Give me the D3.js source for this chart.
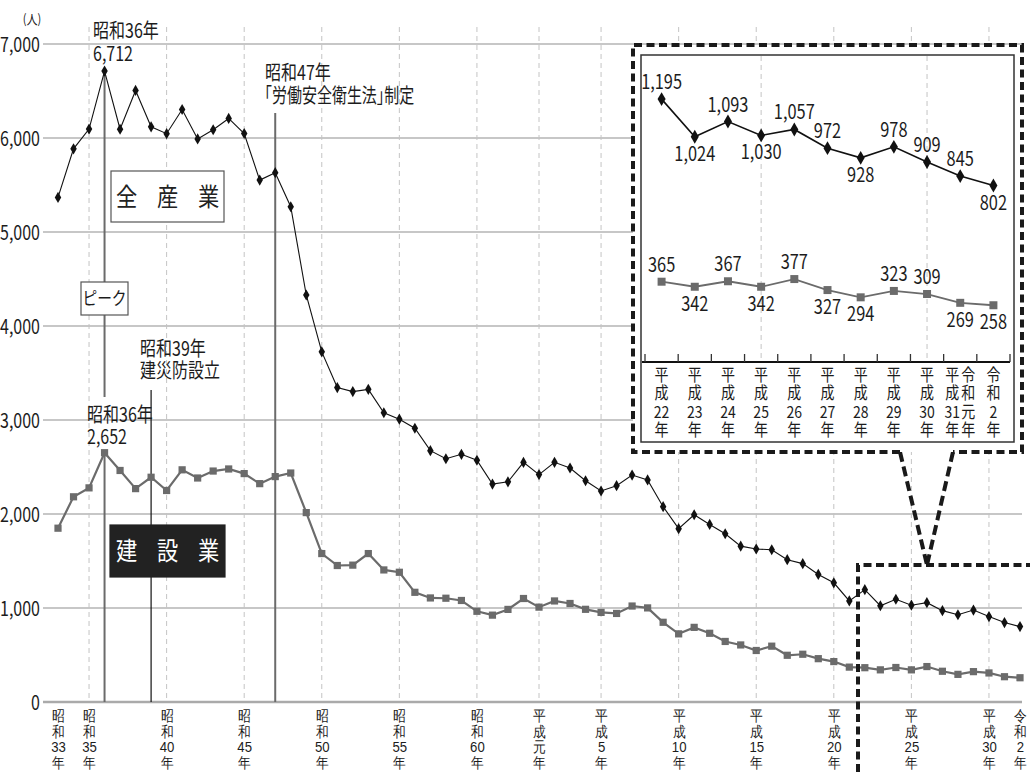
<!DOCTYPE html>
<html lang="ja">
<head>
<meta charset="UTF-8">
<title>労働災害による死亡者数の推移</title>
<script src="https://cdnjs.cloudflare.com/ajax/libs/d3/7.8.5/d3.min.js"></script>
<style>
  body { margin: 0; background: #fff; }
  svg { display: block; font-family: "Noto Sans CJK JP", "Noto Sans", sans-serif; }
</style>
</head>
<body>
<div id="chart"></div>
<script>
// 昭和33年(1958) 〜 令和2年(2020)
const startYear = 1958;
const allIndustry = [
  5368, 5885, 6095, 6712, 6093, 6506, 6119, 6046, 6303, 5990,
  6088, 6208, 6048, 5552, 5631, 5269, 4330, 3725, 3345, 3302,
  3326, 3077, 3009, 2912, 2674, 2588, 2635, 2572, 2318, 2342,
  2549, 2419, 2550, 2489, 2354, 2245, 2301, 2414, 2363, 2078,
  1844, 1992, 1889, 1790, 1658, 1628, 1620, 1514, 1472, 1357,
  1268, 1075, 1195, 1024, 1093, 1030, 1057, 972, 928, 978,
  909, 845, 802
];
const construction = [
  1849, 2183, 2278, 2652, 2463, 2270, 2391, 2250, 2470, 2383,
  2457, 2479, 2430, 2323, 2398, 2436, 2015, 1579, 1452, 1456,
  1579, 1405, 1380, 1167, 1107, 1104, 1080, 965, 924, 985,
  1101, 1009, 1075, 1048, 986, 953, 942, 1021, 1001, 848,
  725, 794, 731, 644, 607, 548, 594, 497, 508, 461,
  430, 371, 365, 342, 367, 342, 377, 327, 294, 323,
  309, 269, 258
];
const yTicks = [0, 1000, 2000, 3000, 4000, 5000, 6000, 7000];
const tickYears = [1958, 1960, 1965, 1970, 1975, 1980, 1985, 1989, 1993, 1998, 2003, 2008, 2013, 2018, 2020];
const tickLabels = [
  ["昭","和","33","年"], ["昭","和","35","年"], ["昭","和","40","年"], ["昭","和","45","年"],
  ["昭","和","50","年"], ["昭","和","55","年"], ["昭","和","60","年"], ["平","成","元","年"],
  ["平","成","5","年"], ["平","成","10","年"], ["平","成","15","年"], ["平","成","20","年"],
  ["平","成","25","年"], ["平","成","30","年"], ["令","和","2","年"]
];
const gridYears = [1960, 1965, 1970, 1975, 1980, 1985, 1989, 1993, 1998, 2003, 2008, 2013, 2018];

// inset: 平成22年〜令和2年
const insetStart = 2010;
const insetLabels = [
  [["平","成","22","年"]], [["平","成","23","年"]], [["平","成","24","年"]], [["平","成","25","年"]],
  [["平","成","26","年"]], [["平","成","27","年"]], [["平","成","28","年"]], [["平","成","29","年"]],
  [["平","成","30","年"]], [["平","成","31","年"], ["令","和","元","年"]], [["令","和","2","年"]]
];
const insetAllPos = ["up","down","up","down","up","up","down","up","up","up","down"];
const insetConPos = ["up","down","up","down","up","down","down","up","up","down","down"];
const insetGridIdx = [3, 8];

const W = 1030, H = 772;
const svg = d3.select("#chart").append("svg").attr("width", W).attr("height", H);

const x = d3.scaleLinear().domain([1958, 2020]).range([58, 1020]);
const y = d3.scaleLinear().domain([0, 7000]).range([702, 44]);
const plotL = 43, plotR = 1022;

const yearOf = i => startYear + i;
const textCol = "#1c1c1c";
const grayS = "#6b6b6b";

function ctext(parent, tx, ty, str, size, anchor, sx, fill) {
  return parent.append("text")
    .attr("transform", `translate(${tx},${ty}) scale(${sx || 0.8},1)`)
    .attr("text-anchor", anchor || "start")
    .attr("font-size", size)
    .attr("fill", fill || textCol)
    .text(str);
}

// horizontal grid
svg.append("g").selectAll("line")
  .data(yTicks.filter(d => d > 0))
  .enter().append("line")
  .attr("x1", plotL).attr("x2", plotR)
  .attr("y1", d => y(d)).attr("y2", d => y(d))
  .attr("stroke", "#b4b4b4").attr("stroke-width", 1.5);

// dashed vertical grid
svg.append("g").selectAll("line")
  .data(gridYears)
  .enter().append("line")
  .attr("x1", d => x(d)).attr("x2", d => x(d))
  .attr("y1", 27).attr("y2", y(0))
  .attr("stroke", "#c4c4c4").attr("stroke-width", 1)
  .attr("stroke-dasharray", "5,4");

// x axis line
svg.append("line")
  .attr("x1", plotL).attr("x2", plotR)
  .attr("y1", y(0)).attr("y2", y(0))
  .attr("stroke", "#aaa").attr("stroke-width", 2.5);

// y tick labels
const yAxis = svg.append("g")
  .attr("transform", `translate(${plotL},0)`)
  .call(d3.axisLeft(y).tickValues(yTicks).tickSize(0).tickFormat(d3.format(",")));
yAxis.select(".domain").remove();
yAxis.selectAll("text")
  .attr("x", 0).attr("dy", "0.36em")
  .attr("transform", "translate(-3,0) scale(0.8,1)")
  .attr("font-family", "\"Noto Sans CJK JP\", sans-serif")
  .attr("font-size", 20).attr("fill", textCol);
ctext(svg, 32, 24, "(人)", 13, "middle", 0.85);

// x tick labels (vertical, stacked)
const xAxis = svg.append("g")
  .attr("transform", `translate(0,${y(0)})`)
  .call(d3.axisBottom(x).tickValues(tickYears).tickSize(0).tickFormat(""));
xAxis.select(".domain").remove();
xAxis.selectAll(".tick").each(function(d, i) {
  const g = d3.select(this);
  tickLabels[i].forEach((s, k) => ctext(g, 0, 19 + k * 15.5, s, 15.5, "middle", 0.85));
});

// annotation lines
svg.append("line")
  .attr("x1", x(1961)).attr("x2", x(1961))
  .attr("y1", y(allIndustry[3])).attr("y2", 397)
  .attr("stroke", grayS).attr("stroke-width", 2);
svg.append("line")
  .attr("x1", x(1961)).attr("x2", x(1961))
  .attr("y1", y(construction[3])).attr("y2", y(0))
  .attr("stroke", grayS).attr("stroke-width", 2);
svg.append("line")
  .attr("x1", x(1964)).attr("x2", x(1964))
  .attr("y1", 390).attr("y2", y(0))
  .attr("stroke", "#111").attr("stroke-width", 1.2);
svg.append("line")
  .attr("x1", x(1972)).attr("x2", x(1972))
  .attr("y1", 113).attr("y2", y(0))
  .attr("stroke", grayS).attr("stroke-width", 2);

// series
const line = d3.line().x((d, i) => x(yearOf(i))).y(d => y(d));
svg.append("path").datum(construction)
  .attr("fill", "none").attr("stroke", grayS).attr("stroke-width", 2.2)
  .attr("d", line);
svg.append("path").datum(allIndustry)
  .attr("fill", "none").attr("stroke", "#111").attr("stroke-width", 1.1)
  .attr("d", line);
svg.append("g").selectAll("path")
  .data(construction).enter().append("path")
  .attr("d", d3.symbol(d3.symbolSquare, 52))
  .attr("transform", (d, i) => `translate(${x(yearOf(i))},${y(d)})`)
  .attr("fill", grayS);
svg.append("g").selectAll("path")
  .data(allIndustry).enter().append("path")
  .attr("d", d3.symbol(d3.symbolDiamond, 36))
  .attr("transform", (d, i) => `translate(${x(yearOf(i))},${y(d)})`)
  .attr("fill", "#111");

// boxes
function wordBox(x0, y0, w, h, chars, fill, stroke, color) {
  const g = svg.append("g");
  g.append("rect").attr("x", x0).attr("y", y0).attr("width", w).attr("height", h)
    .attr("fill", fill).attr("stroke", stroke).attr("stroke-width", 1.2);
  chars.forEach((c, k) => ctext(g, x0 + w / 2 + (k - 1) * 41, y0 + h / 2 + 9, c, 25, "middle", 0.85, color));
}
wordBox(111, 171, 113, 51, ["全","産","業"], "#fff", "#555", "#222");
wordBox(110, 525, 115, 52, ["建","設","業"], "#222", "#222", "#fff");

svg.append("rect").attr("x", 81).attr("y", 282).attr("width", 47).attr("height", 33)
  .attr("fill", "#fff").attr("stroke", "#555").attr("stroke-width", 1.2);
ctext(svg, 104.5, 305, "ピーク", 18, "middle", 0.82);

// annotation texts
ctext(svg, 93, 38, "昭和36年", 20, "start");
ctext(svg, 93, 61, "6,712", 20, "start");
ctext(svg, 87, 422, "昭和36年", 20, "start");
ctext(svg, 87, 444, "2,652", 20, "start");
ctext(svg, 140, 356, "昭和39年", 20, "start");
ctext(svg, 140, 378, "建災防設立", 20, "start");
ctext(svg, 265, 80, "昭和47年", 20, "start");
const law = svg.append("text")
  .attr("transform", "translate(257,103) scale(0.75,1)")
  .attr("font-size", 20).attr("fill", textCol);
law.append("tspan").text("「労働安全衛生法」");
law.append("tspan").attr("dx", -10).text("制定");

// zoom frame on main chart + callout
const dash = { stroke: "#1a1a1a", w: 4, d: "8,4.5" };
svg.append("path")
  .attr("d", "M858,772 V565 H1030")
  .attr("fill", "none").attr("stroke", dash.stroke).attr("stroke-width", dash.w)
  .attr("stroke-dasharray", dash.d);
svg.append("path")
  .attr("d", "M900,452 L927,565 M953,452 L927,565")
  .attr("fill", "none").attr("stroke", dash.stroke).attr("stroke-width", dash.w)
  .attr("stroke-dasharray", "10,5");

// inset panel
const inset = svg.append("g");
inset.append("rect").attr("x", 633).attr("y", 45).attr("width", 389).attr("height", 407)
  .attr("fill", "#fff");
inset.append("path")
  .attr("d", "M900,452 H633 V45 H1022 V452 H953")
  .attr("fill", "none").attr("stroke", dash.stroke).attr("stroke-width", dash.w)
  .attr("stroke-dasharray", dash.d);
inset.append("rect").attr("x", 641).attr("y", 55).attr("width", 373).attr("height", 387)
  .attr("fill", "#fff").attr("stroke", "#333").attr("stroke-width", 1.5);

const xi = d3.scaleBand().domain(d3.range(insetLabels.length)).range([645, 1010]);
const yi = d3.scaleLinear().domain([0, 1400]).range([362, 54]);
const cx = i => xi(i) + xi.bandwidth() / 2;
const off = insetStart - startYear;
const insetAll = allIndustry.slice(off);
const insetCon = construction.slice(off);

inset.append("g").selectAll("line")
  .data(insetGridIdx).enter().append("line")
  .attr("x1", d => cx(d)).attr("x2", d => cx(d))
  .attr("y1", 56).attr("y2", yi(0))
  .attr("stroke", "#c4c4c4").attr("stroke-width", 1).attr("stroke-dasharray", "5,4");

inset.append("line")
  .attr("x1", 642).attr("x2", 1010).attr("y1", yi(0)).attr("y2", yi(0))
  .attr("stroke", "#111").attr("stroke-width", 2.2);
inset.append("g").selectAll("line")
  .data(d3.range(insetLabels.length + 1)).enter().append("line")
  .attr("x1", d => xi.range()[0] + d * xi.step()).attr("x2", d => xi.range()[0] + d * xi.step())
  .attr("y1", yi(0)).attr("y2", yi(0) - 8)
  .attr("stroke", "#333").attr("stroke-width", 1.3);

insetLabels.forEach((cols, i) => {
  cols.forEach((col, c) => {
    const dx = cols.length > 1 ? (c === 0 ? -8 : 8) : 0;
    col.forEach((s, k) => ctext(inset, cx(i) + dx, yi(0) + 19 + k * 18.3, s, 16.5, "middle", 0.85));
  });
});

const lineI = d3.line().x((d, i) => cx(i)).y(d => yi(d));
inset.append("path").datum(insetCon)
  .attr("fill", "none").attr("stroke", grayS).attr("stroke-width", 1.8).attr("d", lineI);
inset.append("path").datum(insetAll)
  .attr("fill", "none").attr("stroke", "#111").attr("stroke-width", 1.6).attr("d", lineI);
inset.append("g").selectAll("path")
  .data(insetCon).enter().append("path")
  .attr("d", d3.symbol(d3.symbolSquare, 64))
  .attr("transform", (d, i) => `translate(${cx(i)},${yi(d)})`)
  .attr("fill", grayS);
inset.append("g").selectAll("path")
  .data(insetAll).enter().append("path")
  .attr("d", d3.symbol(d3.symbolDiamond, 56))
  .attr("transform", (d, i) => `translate(${cx(i)},${yi(d)})`)
  .attr("fill", "#111");

const fmt = d3.format(",");
insetAll.forEach((v, i) => {
  const ty = insetAllPos[i] === "up" ? yi(v) - 10 : yi(v) + 24;
  ctext(inset, cx(i), ty, fmt(v), 20, "middle", 0.82);
});
insetCon.forEach((v, i) => {
  const ty = insetConPos[i] === "up" ? yi(v) - 10 : yi(v) + 24;
  ctext(inset, cx(i), ty, fmt(v), 20, "middle", 0.82);
});
</script>
</body>
</html>
